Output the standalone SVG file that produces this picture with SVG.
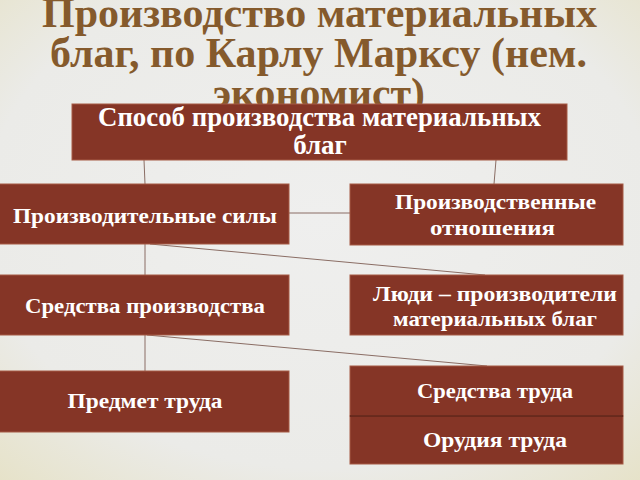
<svg xmlns="http://www.w3.org/2000/svg" width="640" height="480" viewBox="0 0 640 480">
<defs>
<radialGradient id="bg" cx="50%" cy="45%" r="75%">
<stop offset="0" stop-color="#efefee"/>
<stop offset="0.7" stop-color="#ebebe8"/>
<stop offset="1" stop-color="#e6e2c8"/>
</radialGradient>
<style>
.box{fill:#853526;stroke:#a55a45;stroke-width:1}
.t{font-family:"Liberation Serif","DejaVu Serif",serif;font-weight:bold;font-size:22px;fill:#ffffff;text-anchor:middle}
.tb{font-size:27px}
.title{font-family:"Liberation Serif","DejaVu Serif",serif;font-weight:bold;font-size:42px;fill:#855a2c;text-anchor:middle}
.c{stroke:#8a6d64;stroke-width:1;fill:none}
</style>
</defs>
<rect width="640" height="480" fill="url(#bg)"/>
<g id="title">
<text class="title" x="319.5" y="27" textLength="555" lengthAdjust="spacingAndGlyphs">Производство материальных</text>
<text class="title" x="318.5" y="67" textLength="537" lengthAdjust="spacingAndGlyphs">благ, по Карлу Марксу (нем.</text>
<text class="title" x="319" y="107" textLength="212" lengthAdjust="spacingAndGlyphs">экономист)</text>
</g>
<g id="connectors">
<line class="c" x1="144" y1="160" x2="145" y2="184"/>
<line class="c" x1="496" y1="160" x2="494" y2="184"/>
<line class="c" x1="289" y1="213" x2="350" y2="213"/>
<line class="c" x1="145" y1="244" x2="145" y2="275"/>
<line class="c" x1="150" y1="244" x2="485" y2="275"/>
<line class="c" x1="145" y1="335" x2="145" y2="371"/>
<line class="c" x1="147" y1="335" x2="487" y2="366"/>
</g>
<g id="n-top">
<rect class="box" x="72" y="104" width="495" height="56"/>
<text class="t tb" x="319.5" y="126" textLength="443" lengthAdjust="spacingAndGlyphs">Способ производства материальных</text>
<text class="t tb" x="320" y="154">благ</text>
</g>
<g id="n-forces">
<rect class="box" x="-1" y="184" width="290" height="60"/>
<text class="t" x="145" y="223" textLength="264" lengthAdjust="spacingAndGlyphs">Производительные силы</text>
</g>
<g id="n-relations">
<rect class="box" x="350" y="184" width="273" height="61"/>
<text class="t" x="495.5" y="209" textLength="201" lengthAdjust="spacingAndGlyphs">Производственные</text>
<text class="t" x="492.5" y="235" textLength="125" lengthAdjust="spacingAndGlyphs">отношения</text>
</g>
<g id="n-means">
<rect class="box" x="-1" y="275" width="290" height="60"/>
<text class="t" x="145" y="313" textLength="240" lengthAdjust="spacingAndGlyphs">Средства производства</text>
</g>
<g id="n-people">
<rect class="box" x="350" y="275" width="273" height="60"/>
<text class="t" x="495" y="301" textLength="244" lengthAdjust="spacingAndGlyphs">Люди – производители</text>
<text class="t" x="495" y="326" textLength="204" lengthAdjust="spacingAndGlyphs">материальных благ</text>
</g>
<g id="n-object">
<rect class="box" x="-1" y="371" width="290" height="61"/>
<text class="t" x="145" y="408" textLength="155" lengthAdjust="spacingAndGlyphs">Предмет труда</text>
</g>
<g id="n-labour">
<rect class="box" x="350" y="366" width="273" height="50"/>
<text class="t" x="495" y="398" textLength="156" lengthAdjust="spacingAndGlyphs">Средства труда</text>
</g>
<g id="n-tools">
<rect class="box" x="350" y="416" width="273" height="48"/>
<line x1="350" y1="416" x2="623" y2="416" stroke="#5a1f15" stroke-width="1.5"/>
<text class="t" x="495" y="447" textLength="144" lengthAdjust="spacingAndGlyphs">Орудия труда</text>
</g>
</svg>
